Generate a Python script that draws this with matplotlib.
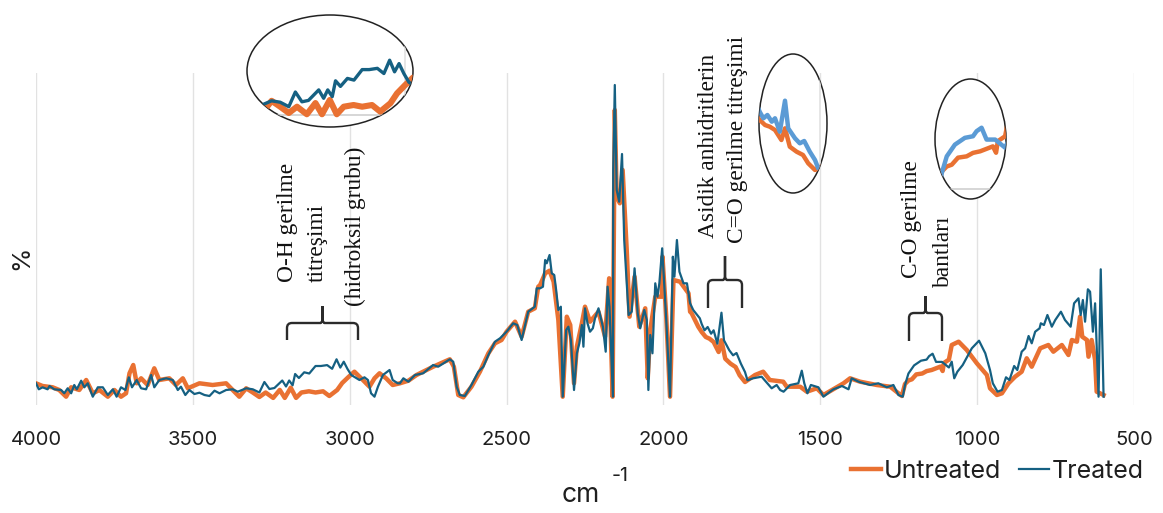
import matplotlib
matplotlib.use('Agg')
import matplotlib.pyplot as plt
from matplotlib.patches import Ellipse, PathPatch
from matplotlib.path import Path

W, H = 1163, 513

treated_wn = [4000,3991,3979,3963,3957,3942,3920,3910,3899,3888,3878,3870,3856,3846,3835,3819,3803,3787,3771,3755,3743,3729,3715,3704,3694,3679,3665,3649,3633,3623,3607,3585,3564,3548,3538,3524,3511,3495,3479,3463,3447,3431,3415,3394,3373,3357,3330,3309,
    3288,3272,3256,3240,3215,3203,3193,3182,3174,3162,3145,3129,3109,3092,3072,3056,3042,3030,3019,3007,2995,
    2969,2953,2942,2932,2921,2910,2894,2873,2863,2847,
    2840,2829,2813,2792,2766,2734,2718,2681,2670,2659,2649,2633,2612,2590,2574,2558,2537,2521,2500,2479,2466,2452,2431,2410,2404,
    2393,2384,2377,2372,2363,2356,2348,2342,2335,2327,2321,2310,2303,2295,2285,2276,2268,2260,2255,2250,2242,2234,2225,2218,2207,2193,2184,2178,2172,2161,
    2160,2155,2149,2141,2132,2125,
    2111,2101,2092,2082,2074,2061,2053,2048,2042,2035,2026,2019,2013,2004,1991,1979,1970,1965,1957,1949,1936,1925,1915,
    1905,1884,
    1878,1869,1859,1848,1840,1828,1815,1807,1790,1778,1767,1753,1740,1732,
    1714,1687,1655,1639,
    1628,1617,1596,1570,1559,1551,1541,1530,1506,1490,1469,1458,1431,1410,1400,1378,1341,1315,1288,1267,1251,1237,
    1230,1219,1201,1179,1161,1153,1142,1131,1112,1090,
    1081,1073,1063,1046,1017,994,974,
    959,950,935,921,908,897,882,872,858,847,836,826,815,801,797,787,776,762,751,733,720,702,691,677,670,663,656,647,640,631,624,613,606,597]
treated_y = [21.7,15.7,17.7,15.7,19,15.7,15,11.7,16.7,11.7,20,15.7,24.3,17.7,21.7,8.3,17.7,17.7,10,15.7,8.3,17.7,15,27.7,17.7,25,16.7,15.7,30,17.7,25,26.7,25,15,18.3,10,15,11,12.3,10,9,14.3,11.7,15,15.7,13.3,16.7,15.7,
    12.5,23,16,17,24.5,18.5,24.5,19.7,31,27,32.7,31.5,39,39,39.9,36.2,45.7,37.4,43.3,36,30,
    25,27.7,25,11.7,8.3,18.3,30,35,25,21.7,
    21.7,26.7,23.3,30,31.7,40,38.3,45.7,43.3,18.3,10,9,20,33.3,38.3,50,63.3,66.7,73.3,81.7,80,65,93.3,98.3,116.7,
    116.7,118.3,145,141.7,150,131.7,130,115,95,98.3,8.3,75,78.3,65,15,51.7,61.7,80,58.3,96.7,81.7,73.3,76.7,86.7,96.7,78.3,53.3,118.3,98.3,8.3,
    235,320,215,203.3,251,165,
    90,93.3,136.7,91.7,76.7,95,85,15,70,51.7,121.7,108.3,121.7,156.7,85,8.3,148.3,128.3,165,133.3,121.7,121.7,101.7,
    95,86.7,
    81,74.7,78,71.3,74.7,61.3,92.3,64.7,54.7,49.7,52,41.3,33,24.7,
    26.7,28.3,16.7,20,
    15,13.3,20,21.7,34.3,21.7,11.7,20,17.7,8.3,13.3,15.7,19,15.7,26.7,23.3,20,21.7,17.7,20,10,8.3,
    19.9,31.5,39.6,44.3,45.4,48.9,51.3,43.1,43.1,37.5,
    43.3,26.7,33.3,40,56.7,64.3,51.7,
    35,21.7,13.3,15,27.7,25,39,35,53.3,56.7,69,61.7,73.3,76.7,81.7,80,90,78.3,85,93.3,85,78.3,101.7,106.7,90,105,83.3,115.7,113.3,73.3,101.7,8.3,135.7,8.3]

untreated_wn = [4000,3979,3947,3926,3904,3888,3862,3840,3819,3798,3771,3750,3729,3713,3702,3690,3679,3665,3644,3623,3607,3575,3554,3532,3516,3479,3437,3394,3373,3352,3330,
    3309,3288,3268,3244,3223,3207,3188,3171,3154,3130,3109,3085,3065,3040,3024,3004,
    2985,2958,2937,2921,2905,2884,2863,
    2840,2813,2787,2734,2681,2668,2654,2638,2612,2585,2558,2537,2516,2500,2473,2452,2431,2410,2399,
    2393,2377,2363,2350,2335,2321,2308,2297,2285,2276,2260,2250,2234,2207,2186,2173,2162,
    2155,2149,2139,2130,2117,
    2108,2092,2077,2058,2050,2042,2026,2005,2003,1991,1979,1968,1947,1920,1915,
    1910,1889,
    1878,1865,1853,1840,1824,1815,1803,1786,1770,1757,1740,
    1708,1682,1661,1618,
    1607,1564,1543,1511,1490,1453,1426,1405,1373,1320,1277,1240,
    1230,1219,1208,1194,1175,1161,1145,1117,1110,1106,1090,
    1081,1059,1033,1001,969,
    959,937,921,900,879,858,842,826,799,773,757,730,709,698,682,672,665,650,645,635,624,619,597]
untreated_y = [21.7,19,17.7,15,8.3,17.7,15,25,11.7,15,8.3,15,8.3,11.7,31.7,40,21.7,26.7,20,36.7,25,26.7,20,26.7,16.7,21.7,20,21.7,15,8.3,16.7,
    12.5,8,12.5,7.1,15.1,7.1,17.3,7.1,12.5,13.7,12.5,13.7,9,15,22,28,
    33.3,25,18.3,26.7,31.7,26.7,20,
    21.7,24.3,30,38.3,45.7,38.3,10,7.7,18.3,33.3,51.7,61.7,65,73.3,83.3,68.3,93.3,96.7,118.3,
    120,131.7,134.3,123.3,85,8.3,88.3,80,21.7,58.3,81.7,98.3,83.3,93.3,68.3,126.7,8.3,
    295,208.3,201.7,235,155,
    88.3,128.3,78.3,96.7,26.7,75,108.3,108.3,148.3,88.3,8.3,125,123.3,111.7,93.3,
    91.7,78.3,
    73,68,66.3,63,53,64.7,46.3,41.3,38,29.7,23,
    30,33.3,25,23.3,
    18.3,18.3,13.3,16.7,10,16.7,21.7,26.7,23.3,20,18.3,9,
    21,24.5,25.7,30.6,31.5,33.9,35,38.4,34,42,45.4,
    60,63.3,55,41.7,30,
    16.7,10,11.7,21.7,28.3,33.3,46.7,38.3,56.7,60,53.3,60,50,65,63.3,88.3,68.3,65,48.3,65,45,13.3,10]

x_ticks = [4000, 3500, 3000, 2500, 2000, 1500, 1000, 500]

ORANGE = '#E97132'
BLUE = '#156082'
LIGHT = '#5B9BD5'
GRID = '#E2E2E2'
INK = '#1F1F1F'


def frac(x0, y0, x1, y1):
    # pixel box (y down) -> figure fraction
    return [x0 / W, 1 - y1 / H, (x1 - x0) / W, (y1 - y0) / H]


fig = plt.figure(figsize=(W / 100, H / 100), dpi=100)
ax = fig.add_axes(frac(36, 73, 1134, 405))
ax.set_xlim(4000, 500)
ax.set_ylim(0, 332)
ax.set_xticks(x_ticks)
ax.set_yticks([])
ax.grid(axis='x', color=GRID, lw=1)
ax.set_axisbelow(True)
for s in ax.spines.values():
    s.set_visible(False)
ax.tick_params(axis='x', length=0, pad=19, labelsize=14.5, labelcolor=INK)
for t in ax.get_xticklabels():
    t.set_family('Inter')

l1, = ax.plot(untreated_wn, untreated_y, color=ORANGE, lw=3.2, label='Untreated', solid_joinstyle='round')
l2, = ax.plot(treated_wn, treated_y, color=BLUE, lw=1.6, label='Treated', solid_joinstyle='round')

fig.legend(handles=[l1, l2], ncols=2, frameon=False, loc='center right',
           bbox_to_anchor=(1156 / W, 1 - 471 / H), prop={'family': 'Inter', 'size': 18},
           handlelength=1.2, handletextpad=0.12, columnspacing=0.7, borderpad=0, labelcolor=INK)

fig.text(581 / W, 1 - 495 / H, 'cm', family='Inter', fontsize=19, ha='center', va='center', color=INK)
fig.text(620 / W, 1 - 476 / H, '-1', family='Inter', fontsize=14, ha='center', va='center', color=INK)
fig.text(22 / W, 1 - 258 / H, '%', family='Inter', fontsize=18, rotation=90, ha='center', va='center', color=INK)

# rotated notes
notes = [('O-H gerilme', 287, 222), ('titreşimi', 317, 243), ('(hidroksil grubu)', 355, 226),
         ('Asidik anhidritlerin', 708, 146), ('C=O gerilme titreşimi', 738, 139),
         ('C-O gerilme', 911, 219), ('bantları', 943, 251)]
for txt, px, py in notes:
    fig.text(px / W, 1 - py / H, txt, family='Liberation Serif', fontsize=16.8, rotation=90,
             ha='center', va='center', color='#111111')


def brace(x0, x1, top, bottom, tip):
    mid = (x0 + x1) / 2
    pts = [(x0, bottom), (x0, top + 6), (x0, top + 1), (x0 + 5, top + 1), (mid - 2, top + 1),
           (mid - 1, top + 1), (mid, top - 2), (mid, tip), (mid, top - 2), (mid + 1, top + 1),
           (mid + 2, top + 1), (x1 - 5, top + 1), (x1, top + 1), (x1, top + 6), (x1, bottom)]
    codes = [Path.MOVETO, Path.LINETO, Path.CURVE3, Path.CURVE3, Path.LINETO,
             Path.CURVE3, Path.CURVE3, Path.LINETO, Path.LINETO, Path.CURVE3,
             Path.CURVE3, Path.LINETO, Path.CURVE3, Path.CURVE3, Path.LINETO]
    pts = [(p[0] / W, 1 - p[1] / H) for p in pts]
    fig.add_artist(PathPatch(Path(pts, codes), transform=fig.transFigure, fc='none', ec='#2b2b2b', lw=1.7))


brace(287, 358, 322, 340, 306)
brace(708, 742, 279, 308, 256)
brace(909, 942, 312, 341, 296)


def lens(box, xlim, ylim, tcolor, grid_x=None, grid_y=None, lw_u=4.4, lw_t=2.4):
    a = fig.add_axes(frac(*box))
    a.set_xlim(*xlim)
    a.set_ylim(*ylim)
    a.axis('off')
    e = Ellipse((0.5, 0.5), 1, 1, transform=a.transAxes, fc='white', ec='#222222', lw=1.1, zorder=1, clip_on=False)
    a.add_patch(e)
    arts = []
    if grid_x is not None:
        arts.append(a.axvline(grid_x, color=GRID, lw=1.2, zorder=2))
    if grid_y is not None:
        arts.append(a.axhline(grid_y, color='#CFCFCF', lw=1.2, zorder=2))
    arts += a.plot(untreated_wn, untreated_y, color=ORANGE, lw=lw_u, zorder=3)
    arts += a.plot(treated_wn, treated_y, color=tcolor, lw=lw_t, zorder=4)
    for art in arts:
        art.set_clip_path(e)
    return a


lens((247, 15, 413, 127), (3390, 2985), (-2, 78), BLUE, grid_x=3005, grid_y=6.6)
lens((759, 54, 827, 193), (1880, 1710), (0, 139), LIGHT, grid_x=1727, lw_u=3.2, lw_t=3.2)
lens((935, 79, 1006, 199), (1245, 1088), (2, 85), LIGHT, grid_y=9, lw_u=3.2, lw_t=3.2)

fig.savefig('out.png', dpi=100)
